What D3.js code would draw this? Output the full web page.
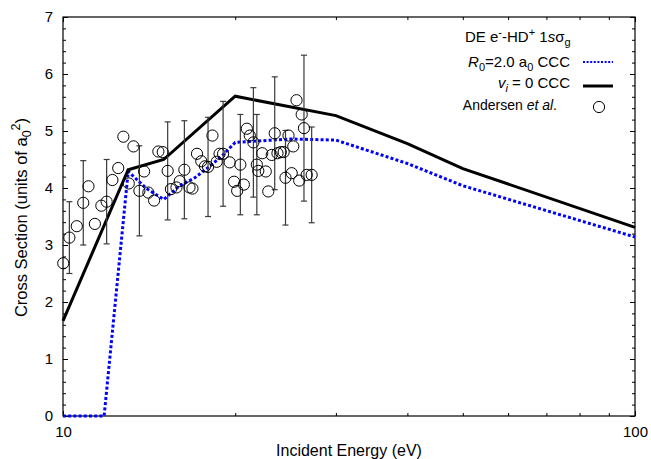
<!DOCTYPE html>
<html>
<head>
<meta charset="utf-8">
<script src="https://cdn.jsdelivr.net/npm/d3@7"></script>
<style>
  body { margin: 0; background: #fff; }
  svg text { font-family: "Liberation Sans", Arial, Helvetica, sans-serif; fill: #000; }
</style>
</head>
<body>
<svg id="chart"></svg>
<script>
// R0 = 2.0 a0 CCC (blue dotted)
const fixedNucE  = [10, 11.8, 13, 14, 15, 16, 17, 18, 19, 20, 25, 30, 40, 50, 100];
const fixedNucCS = [0, 0, 4.29, 3.99, 3.80, 4.04, 4.18, 4.37, 4.57, 4.80, 4.86, 4.84, 4.43, 4.04, 3.14];

// vi = 0 CCC (black solid)
const vibE  = [10, 13, 15, 20, 30, 40, 50, 100];
const vibCS = [1.67, 4.32, 4.50, 5.61, 5.27, 4.78, 4.34, 3.31];

// Andersen et al. measurements (err null = no bar drawn)
const andersenE = [10.01, 10.26, 10.57, 10.85, 11.08, 11.37, 11.67, 11.92, 12.20, 12.49,
                   12.75, 13.03, 13.28, 13.60, 13.86, 14.10, 14.43, 14.68, 14.94, 15.24,
                   15.44, 15.79, 16.00, 16.30, 16.64, 16.84, 17.15, 17.45, 17.71, 17.93,
                   18.25, 18.57, 18.78, 19.05, 19.56, 19.91, 20.16, 20.42, 20.71, 20.96,
                   21.21, 21.52, 21.82, 21.95, 22.30, 22.62, 22.85, 23.17, 23.45, 23.71,
                   24.03, 24.31, 24.49, 24.79, 25.11, 25.27, 25.60, 25.88, 26.14, 26.38,
                   26.67, 27.21];
const andersenCS = [2.68, 3.13, 3.33, 3.74, 4.03, 3.37, 3.69, 3.76, 4.14, 4.35,
                    4.90, 4.08, 4.73, 3.95, 4.29, 3.92, 3.78, 4.64, 4.63, 4.30,
                    3.98, 4.01, 4.12, 4.32, 4.01, 3.99, 4.60, 4.47, 4.38, 4.37,
                    4.92, 4.46, 4.60, 4.60, 4.45, 4.11, 3.95, 4.41, 4.06, 5.04,
                    4.92, 4.80, 4.41, 4.30, 4.61, 4.29, 3.94, 4.58, 4.96, 4.61,
                    4.63, 4.63, 4.18, 4.92, 4.26, 4.73, 5.54, 4.13, 5.29, 5.05,
                    4.23, 4.23];
const andersenErr = [null, 0.63, null, 0.74, null, null, null, 0.74, null, null,
                     null, null, null, 0.79, null, null, null, null, null, 0.86,
                     null, null, null, 0.86, null, null, null, null, null, 0.87,
                     null, null, null, 0.92, null, null, null, 0.88, null, null,
                     null, 0.96, 0.88, null, null, null, null, null, 0.99, null,
                     null, null, 0.83, null, null, null, null, null, null, 1.28,
                     null, 0.84];

const xMajor = [10, 100];
const xMinor = [20, 30, 40, 50, 60, 70, 80, 90];
const yMajor = [0, 1, 2, 3, 4, 5, 6, 7];
const yMinor = d3.range(0, 7.01, 0.2).filter(v => Math.abs(v - Math.round(v)) > 0.01);

const W = 651, H = 459;
const margin = { top: 17, right: 16, bottom: 43, left: 63 },
      width = W - margin.left - margin.right,
      height = H - margin.top - margin.bottom;

const svg = d3.select("#chart").attr("width", W).attr("height", H);
const g = svg.append("g").attr("transform", `translate(${margin.left},${margin.top})`);

const x = d3.scaleLog().domain([10, 100]).range([0, width]);
const y = d3.scaleLinear().domain([0, 7]).range([height, 0]);

// axes: ticks pointing inward on all four sides
const addAxis = (axis, tx, ty) => g.append("g")
  .attr("transform", `translate(${tx},${ty})`)
  .call(axis)
  .call(a => a.select(".domain").remove())
  .call(a => a.selectAll(".tick line").attr("stroke", "#000"))
  .call(a => a.selectAll("text").style("font-size", "15px"));

addAxis(d3.axisBottom(x).tickValues(xMajor).tickFormat(d3.format("d")).tickSize(-5).tickPadding(10), 0, height);
addAxis(d3.axisBottom(x).tickValues(xMinor).tickFormat("").tickSize(-3), 0, height);
addAxis(d3.axisTop(x).tickValues(xMajor).tickFormat("").tickSize(-5), 0, 0);
addAxis(d3.axisTop(x).tickValues(xMinor).tickFormat("").tickSize(-3), 0, 0);
addAxis(d3.axisLeft(y).tickValues(yMajor).tickFormat(d3.format("d")).tickSize(-5).tickPadding(10), 0, 0);
addAxis(d3.axisLeft(y).tickValues(yMinor).tickFormat("").tickSize(-3), 0, 0);
addAxis(d3.axisRight(y).tickValues(yMajor).tickFormat("").tickSize(-5), width, 0);
addAxis(d3.axisRight(y).tickValues(yMinor).tickFormat("").tickSize(-3), width, 0);

g.append("rect")
  .attr("width", width).attr("height", height)
  .attr("fill", "none").attr("stroke", "#000").attr("stroke-width", 1.2);

// axis titles
g.append("text")
  .attr("x", width / 2).attr("y", height + 40)
  .attr("text-anchor", "middle").style("font-size", "16px")
  .text("Incident Energy (eV)");

const yTitle = g.append("text")
  .attr("transform", `translate(${-36},${height / 2 + 1})rotate(-90)`)
  .attr("text-anchor", "middle").style("font-size", "16.5px");
yTitle.append("tspan").text("Cross Section (units of a");
yTitle.append("tspan").attr("dy", 4).style("font-size", "12.5px").text("0");
yTitle.append("tspan").attr("dy", -11).style("font-size", "12.5px").text("2");
yTitle.append("tspan").attr("dy", 7).text(")");

// curves
const line = d3.line().x(d => x(d[0])).y(d => y(d[1]));

g.append("path")
  .datum(d3.zip(fixedNucE, fixedNucCS))
  .attr("fill", "none").attr("stroke", "#0000ff")
  .attr("stroke-width", 3).attr("stroke-dasharray", "3,2.2")
  .attr("d", line);

g.append("path")
  .datum(d3.zip(vibE, vibCS))
  .attr("fill", "none").attr("stroke", "#000")
  .attr("stroke-width", 3).attr("stroke-linejoin", "miter")
  .attr("d", line);

// measurements
const pts = andersenE.map((e, i) => ({ e, v: andersenCS[i], err: andersenErr[i] }));
const bars = g.append("g").attr("stroke", "#3a3a3a").attr("stroke-width", 1.2);
pts.filter(d => d.err !== null).forEach(d => {
  const px = x(d.e), lo = y(d.v - d.err), hi = y(d.v + d.err);
  bars.append("line").attr("x1", px).attr("x2", px).attr("y1", lo).attr("y2", hi);
  bars.append("line").attr("x1", px - 3).attr("x2", px + 3).attr("y1", lo).attr("y2", lo);
  bars.append("line").attr("x1", px - 3).attr("x2", px + 3).attr("y1", hi).attr("y2", hi);
});

g.selectAll(".dot")
  .data(pts)
  .enter().append("circle")
  .attr("class", "dot")
  .attr("cx", d => x(d.e))
  .attr("cy", d => y(d.v))
  .attr("r", 5.6)
  .attr("fill", "none").attr("stroke", "#000").attr("stroke-width", 1);

// legend (page coordinates)
const leg = svg.append("g").style("font-size", "15px");
const t1 = leg.append("text").attr("x", 465).attr("y", 42);
t1.append("tspan").text("DE e");
t1.append("tspan").attr("dy", -6).style("font-size", "11px").text("-");
t1.append("tspan").attr("dy", 6).text("-HD");
t1.append("tspan").attr("dy", -6).style("font-size", "11px").text("+");
t1.append("tspan").attr("dy", 6).text(" 1");
t1.append("tspan").style("font-style", "italic").text("s");
t1.append("tspan").text("σ");
t1.append("tspan").attr("dy", 4).style("font-size", "11px").text("g");

const t2 = leg.append("text").attr("x", 570).attr("y", 67).attr("text-anchor", "end");
t2.append("tspan").style("font-style", "italic").text("R");
t2.append("tspan").attr("dy", 4).style("font-size", "11px").text("0");
t2.append("tspan").attr("dy", -4).text("=2.0 a");
t2.append("tspan").attr("dy", 4).style("font-size", "11px").text("0");
t2.append("tspan").attr("dy", -4).text(" CCC");
leg.append("line").attr("x1", 583).attr("x2", 613).attr("y1", 62).attr("y2", 62)
  .attr("stroke", "#0000ff").attr("stroke-width", 2.2).attr("stroke-dasharray", "2,1.6");

const t3 = leg.append("text").attr("x", 570).attr("y", 88).attr("text-anchor", "end");
t3.append("tspan").style("font-style", "italic").text("v");
t3.append("tspan").attr("dy", 4).style("font-size", "11px").style("font-style", "italic").text("i");
t3.append("tspan").attr("dy", -4).text(" = 0 CCC");
leg.append("line").attr("x1", 583).attr("x2", 613).attr("y1", 86).attr("y2", 86)
  .attr("stroke", "#000").attr("stroke-width", 3);

const t4 = leg.append("text").attr("x", 557).attr("y", 110).attr("text-anchor", "end")
  .style("font-size", "14px");
t4.append("tspan").text("Andersen ");
t4.append("tspan").style("font-style", "italic").text("et al");
t4.append("tspan").text(".");
leg.append("circle").attr("cx", 599).attr("cy", 107).attr("r", 5.6)
  .attr("fill", "none").attr("stroke", "#000").attr("stroke-width", 1);
</script>
</body>
</html>
